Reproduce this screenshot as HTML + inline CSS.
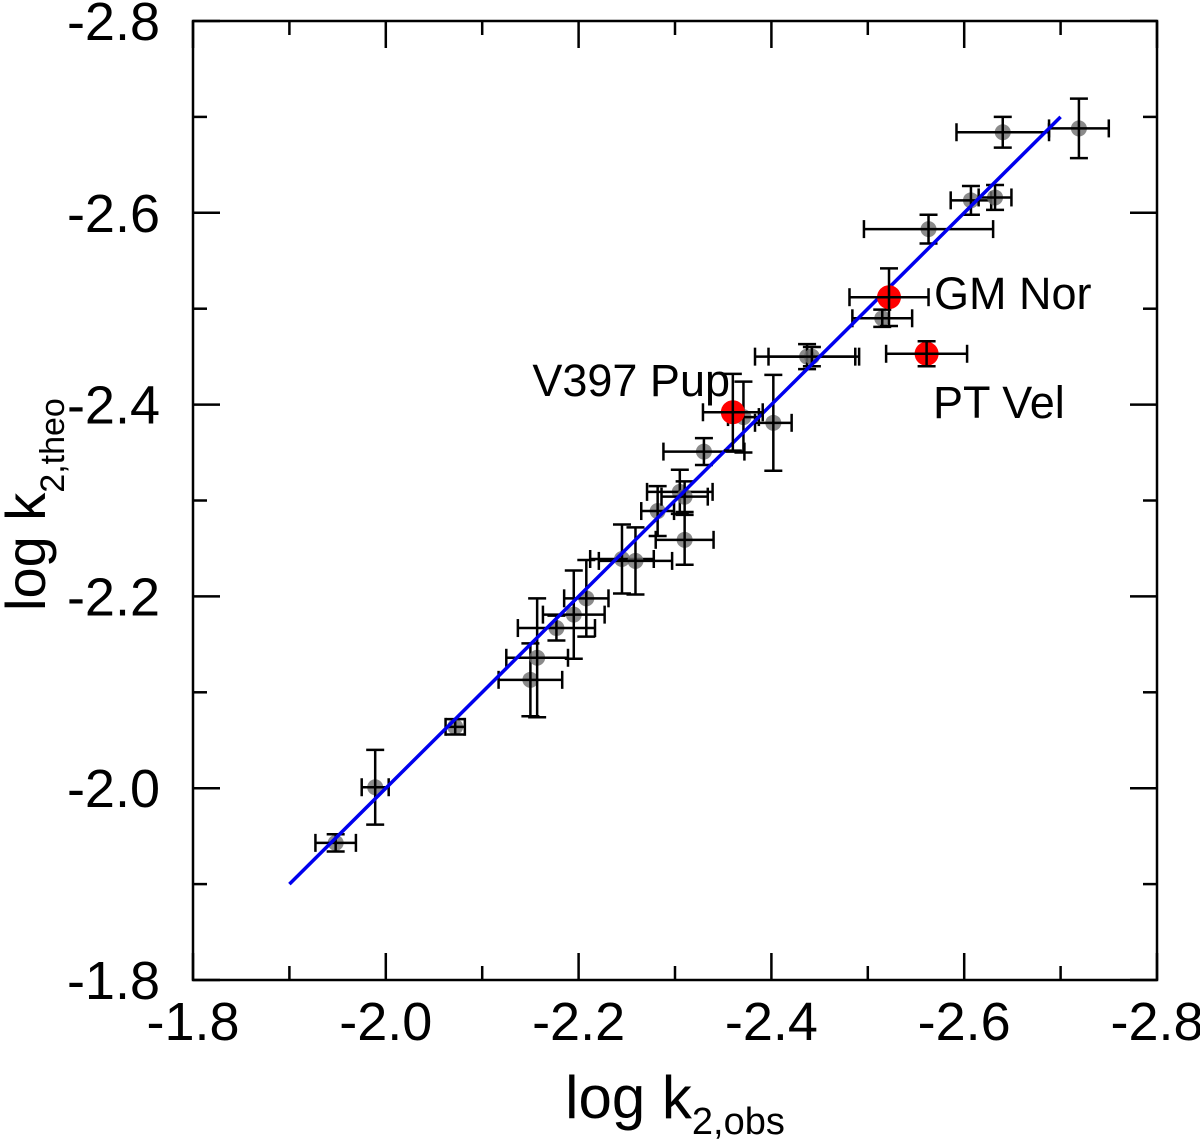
<!DOCTYPE html>
<html><head><meta charset="utf-8"><style>
html,body{margin:0;padding:0;background:#fff;}
svg{display:block;font-family:"Liberation Sans",sans-serif;}
</style></head><body>
<svg id="chart" width="1200" height="1145" viewBox="0 0 1200 1145">
<g id="grid"></g>
<g id="marks"></g>
<g id="labels"></g>
<text x="675" y="1118" font-size="60" text-anchor="middle">log k<tspan font-size="38" dy="16">2,obs</tspan></text>
<text transform="translate(45,611) rotate(-90)" font-size="56" text-anchor="start">log k<tspan font-size="34" dy="19">2,theo</tspan></text>
</svg>
<script>
const xObs = [-1.948,-1.989,-2.072,-2.150,-2.157,-2.177,-2.195,-2.208,-2.245,-2.259,-2.282,-2.305,-2.310,-2.310,-2.330,-2.371,-2.402,-2.437,-2.442,-2.515,-2.563,-2.607,-2.632,-2.640,-2.719];
const yTheo = [-1.943,-2.001,-2.064,-2.113,-2.136,-2.167,-2.181,-2.198,-2.239,-2.237,-2.289,-2.309,-2.304,-2.259,-2.351,-2.387,-2.381,-2.450,-2.450,-2.490,-2.583,-2.613,-2.616,-2.684,-2.688];
const xErr = [0.021,0.014,0.010,0.033,0.032,0.040,0.032,0.023,0.033,0.038,0.017,0.034,0.024,0.030,0.042,0.016,0.019,0.054,0.045,0.031,0.067,0.021,0.017,0.048,0.031];
const yErr = [0.009,0.039,0.008,0.038,0.062,0.013,0.046,0.040,0.036,0.035,0.026,0.023,0.016,0.026,0.014,0.037,0.050,0.013,0.010,0.009,0.015,0.015,0.013,0.016,0.031];
const redNames = ["V397 Pup","GM Nor","PT Vel"];
const redX = [-2.360,-2.522,-2.561];
const redY = [-2.392,-2.512,-2.453];
const redXErr = [0.031,0.041,0.042];
const redYErr = [0.040,0.030,0.013];
const fitX = [-1.9,-2.7];
const fitY = [-1.9,-2.7];
const xTicks = [-1.8,-2.0,-2.2,-2.4,-2.6,-2.8];
const yTicks = [-1.8,-2.0,-2.2,-2.4,-2.6,-2.8];

const L=193,R=1157,T=21,B=980;
function X(v){return L+(-1.8-v)*(R-L);}
function Y(v){return B-(-1.8-v)*(B-T);}
const NS="http://www.w3.org/2000/svg";
function mk(tag,attrs,parent){const e=document.createElementNS(NS,tag);for(const k in attrs)e.setAttribute(k,attrs[k]);parent.appendChild(e);return e;}
const grid=document.getElementById('grid'),marks=document.getElementById('marks'),labels=document.getElementById('labels');

const frame=mk('rect',{x:L,y:T,width:R-L,height:B-T,fill:'none',stroke:'#000','stroke-width':2.5},grid);



for(let i=0;i<=10;i++){
  const v=-1.8-i*0.1, major=i%2===0, len=major?27:14, px=X(v);
  const t1=mk('line',{x1:px,x2:px,y1:B,y2:B-len,stroke:'#000','stroke-width':2.5},grid);
  
  
  const t2=mk('line',{x1:px,x2:px,y1:T,y2:T+len,stroke:'#000','stroke-width':2.5},grid);
  
  
  const py=Y(v);
  const t3=mk('line',{x1:L,x2:L+len,y1:py,y2:py,stroke:'#000','stroke-width':2.5},grid);
  
  
  const t4=mk('line',{x1:R,x2:R-len,y1:py,y2:py,stroke:'#000','stroke-width':2.5},grid);
  
  
}
xTicks.forEach(v=>{
  const t=mk('text',{x:X(v),y:1040,'font-size':54,'text-anchor':'middle'},labels);
  t.textContent=v.toFixed(1);
  
  
});
yTicks.forEach(v=>{
  const t=mk('text',{x:160,y:Y(v)+19,'font-size':54,'text-anchor':'end'},labels);
  t.textContent=v.toFixed(1);
  
  
});

function errBar(x,y,xe,ye,name){
  const g=mk('g',{stroke:'#000','stroke-width':2.5},marks);
  
  
  const cx=X(x),cy=Y(y),x1=X(x+xe),x2=X(x-xe),y1=Y(y+ye),y2=Y(y-ye),c=9;
  mk('line',{x1:x1,x2:x2,y1:cy,y2:cy},g);
  mk('line',{x1:x1,x2:x1,y1:cy-c,y2:cy+c},g);
  mk('line',{x1:x2,x2:x2,y1:cy-c,y2:cy+c},g);
  mk('line',{x1:cx,x2:cx,y1:y1,y2:y2},g);
  mk('line',{x1:cx-c,x2:cx+c,y1:y1,y2:y1},g);
  mk('line',{x1:cx-c,x2:cx+c,y1:y2,y2:y2},g);
}
xObs.forEach((x,i)=>{
  const c=mk('circle',{cx:X(x),cy:Y(yTheo[i]),r:8,fill:'#6e6e6e','fill-opacity':0.8},marks);
  
  
  errBar(x,yTheo[i],xErr[i],yErr[i],'star-error-bar');
});
const fit=mk('line',{x1:X(fitX[0]),y1:Y(fitY[0]),x2:X(fitX[1]),y2:Y(fitY[1]),stroke:'#0000ee','stroke-width':3.5},marks);


redX.forEach((x,i)=>{
  const c=mk('circle',{cx:X(x),cy:Y(redY[i]),r:12,fill:'#ff0000'},marks);
  
  
  errBar(x,redY[i],redXErr[i],redYErr[i],'highlighted-error-bar');
});
const lab=[{x:730,y:396,a:'end'},{x:934,y:309,a:'start'},{x:933,y:418,a:'start'}];
redNames.forEach((n,i)=>{
  const t=mk('text',{x:lab[i].x,y:lab[i].y,'font-size':45,'text-anchor':lab[i].a},labels);
  t.textContent=n;
  
  
});
</script>
</body></html>
